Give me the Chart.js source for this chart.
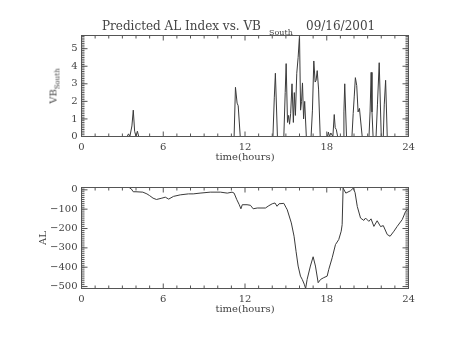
<!DOCTYPE html>
<html>
<head>
<meta charset="utf-8">
<script src="https://cdn.jsdelivr.net/npm/chart.js@4"></script>
<style>
  body { margin: 0; background: #fff; }
  #wrap { position: relative; width: 454px; height: 341px; overflow: hidden; }
  canvas { position: absolute; left: 0; top: 0; }
  .txt { position: absolute; font-family: 'DejaVu Serif'; color: #444; white-space: pre; }
</style>
</head>
<body>
<div id="wrap">
  <canvas id="vbChart" width="454" height="341"></canvas>
  <canvas id="alChart" width="454" height="341"></canvas>
  <div class="txt" style="left:102px;top:20px;font-size:12px;line-height:12px">Predicted AL Index vs. VB</div>
  <div class="txt" style="left:269px;top:29px;font-size:8px;line-height:8px">South</div>
  <div class="txt" style="left:306px;top:20px;font-size:12px;line-height:12px">09/16/2001</div>
  <div class="txt" style="left:54px;top:86px;font-size:10px;line-height:10px;transform:translate(-50%,-50%) rotate(-90deg)">VB<span style="font-size:7px;position:relative;top:3px">South</span></div>
</div>
<script>
// ---------------- Data ----------------
const hourTicks = [0, 6, 12, 18, 24];
const vbTicks = [0, 1, 2, 3, 4, 5];
const alTicks = [0, -100, -200, -300, -400, -500];

// VB South (hours, value)
const vbHours = [0, 3.35, 3.45, 3.55, 3.7, 3.8, 3.9, 4.0, 4.1, 4.2,
    11.2, 11.3, 11.42, 11.5, 11.65,
    14.05, 14.15, 14.23, 14.38, 14.85, 14.95, 15.02, 15.12, 15.2, 15.27, 15.35, 15.45, 15.55, 15.62, 15.7,
    15.8, 15.9, 16.0, 16.08, 16.15, 16.22, 16.3, 16.38, 16.5,
    16.85, 16.95, 17.05, 17.15, 17.22, 17.3, 17.4, 17.52,
    18.05, 18.12, 18.2, 18.3, 18.45, 18.55, 18.62, 18.7, 18.8,
    19.2, 19.26, 19.32, 19.45, 19.85, 19.94, 20.02, 20.1, 20.2, 20.3, 20.4, 20.6,
    21.1, 21.18, 21.26, 21.32, 21.4, 21.62, 21.72, 21.85, 22.0, 22.15, 22.22, 22.32, 22.44, 24];
const vbValues = [0, 0, 0.15, 0, 0.6, 1.5, 0.3, 0, 0.3, 0,
    0, 2.8, 1.9, 1.75, 0,
    0, 2.2, 3.6, 0, 0, 2.5, 4.15, 0.8, 1.2, 0.7, 1.3, 3.0, 0.8, 2.5, 1.2,
    3.6, 4.5, 5.75, 1.5, 2.0, 3.05, 1.0, 2.0, 0,
    0, 1.5, 4.3, 3.1, 3.2, 3.75, 2.7, 0,
    0, 0.25, 0, 0.2, 0, 1.25, 0.5, 0.4, 0,
    0, 1.4, 3.0, 0, 0, 1.3, 2.3, 3.35, 2.9, 1.4, 1.6, 0,
    0, 1.4, 3.65, 1.4, 0, 0, 1.8, 4.2, 0, 0, 1.8, 3.2, 0, 0];

// AL index (hours, nT)
const alHours = [3.52, 3.65, 3.8, 4.0, 4.5, 4.8, 5.0, 5.25, 5.5, 5.9, 6.15, 6.4, 6.75, 7.25, 7.85,
    8.2, 8.7, 9.45, 10.2, 10.7, 11.05, 11.2, 11.4, 11.58, 11.7, 11.8, 12.15, 12.4, 12.6, 12.9,
    13.5, 13.75, 14.0, 14.2, 14.35, 14.5, 14.85, 15.0, 15.1, 15.4, 15.6, 15.75, 15.9, 16.07, 16.2,
    16.35, 16.45, 16.56, 16.8, 17.0, 17.17, 17.37, 17.55, 17.78, 18.03, 18.15, 18.4, 18.64, 18.88,
    19.06, 19.13, 19.2, 19.4, 19.74, 19.95, 20.08, 20.24, 20.48, 20.72, 20.85, 21.09, 21.25, 21.46,
    21.7, 21.95, 22.15, 22.44, 22.65, 22.93, 23.17, 23.54, 23.79, 24.0];
const alValues = [10, 5, -10, -10, -12, -21, -30, -43, -50, -43, -38, -48, -34, -26, -21,
    -21, -17, -12, -12, -17, -12, -17, -51, -77, -98, -77, -77, -80, -98, -94,
    -94, -82, -72, -68, -85, -72, -70, -90, -103, -171, -240, -320, -394, -446, -463,
    -488, -510, -463, -394, -346, -394, -480, -463, -454, -446, -411, -351, -283, -257,
    -214, -180, 9, -17, -5, 9, -15, -86, -146, -158, -146, -163, -150, -189,
    -160, -190, -185, -231, -240, -214, -189, -154, -111, -98];

Chart.defaults.font.family = "'DejaVu Serif'";
Chart.defaults.font.size = 10;
Chart.defaults.color = '#444';

// IDL-style box with inward ticks on all four sides
const boxTicks = {
    id: 'boxTicks',
    afterDatasetsDraw(chart, args, opts) {
        const { ctx, chartArea: a, scales: { x, y } } = chart;
        ctx.save();
        ctx.strokeStyle = '#555';
        ctx.lineWidth = 1;
        ctx.strokeRect(a.left, a.top, a.right - a.left, a.bottom - a.top);
        ctx.beginPath();
        for (let h = 0; h <= 24; h++) {
            const px = x.getPixelForValue(h);
            const len = hourTicks.includes(h) ? 5 : 3;
            ctx.moveTo(px, a.bottom); ctx.lineTo(px, a.bottom - len);
            ctx.moveTo(px, a.top); ctx.lineTo(px, a.top + len);
        }
        for (let v = opts.from; v <= opts.to + 1e-9; v += opts.step) {
            const py = y.getPixelForValue(v);
            ctx.moveTo(a.left, py); ctx.lineTo(a.left + 3, py);
            ctx.moveTo(a.right, py); ctx.lineTo(a.right - 3, py);
        }
        opts.major.forEach(v => {
            const py = y.getPixelForValue(v);
            ctx.moveTo(a.left, py); ctx.lineTo(a.left + 6, py);
            ctx.moveTo(a.right, py); ctx.lineTo(a.right - 6, py);
        });
        ctx.stroke();
        ctx.restore();
    }
};

function makeChart(id, hours, values, yMin, yMax, yTicks, yTitle, pad, minor) {
    const ctx = document.getElementById(id).getContext('2d');
    return new Chart(ctx, {
        type: 'line',
        data: {
            datasets: [{
                data: hours.map((h, i) => ({ x: h, y: values[i] })),
                borderColor: '#3a3a3a',
                borderWidth: 1,
                pointRadius: 0,
                tension: 0
            }]
        },
        options: {
            responsive: false,
            animation: false,
            layout: { padding: pad },
            plugins: { legend: { display: false }, tooltip: { enabled: false }, boxTicks: minor },
            scales: {
                x: {
                    type: 'linear', min: 0, max: 24,
                    grid: { display: false, drawTicks: false },
                    border: { display: false },
                    afterBuildTicks: s => { s.ticks = hourTicks.map(v => ({ value: v })); },
                    afterFit: s => { s.height = 34; },
                    ticks: { padding: 5 },
                    title: { display: true, text: 'time(hours)', padding: { top: 0, bottom: 7 } }
                },
                y: {
                    min: yMin, max: yMax,
                    grid: { display: false, drawTicks: false },
                    border: { display: false },
                    afterBuildTicks: s => { s.ticks = yTicks.map(v => ({ value: v })); },
                    afterFit: s => { s.width = 81.5; },
                    ticks: { padding: 4, callback: v => String(v).replace('-', '\u2212') },
                    title: { display: yTitle !== '', text: yTitle, padding: { top: 37, bottom: 0 } }
                }
            }
        },
        plugins: [boxTicks]
    });
}

// ---------------- VB South ----------------
makeChart('vbChart', vbHours, vbValues, 0, 5.75, vbTicks, '',
    { left: 0, right: 45.5, top: 35.5, bottom: 170.5 },
    { from: 0, to: 5.75, step: 0.1, major: vbTicks });

// ---------------- AL index ----------------
makeChart('alChart', alHours, alValues, -510, 12, alTicks, 'AL',
    { left: 0, right: 45.5, top: 187.5, bottom: 18.5 },
    { from: -510, to: 12, step: 10, major: alTicks });
</script>
</body>
</html>
